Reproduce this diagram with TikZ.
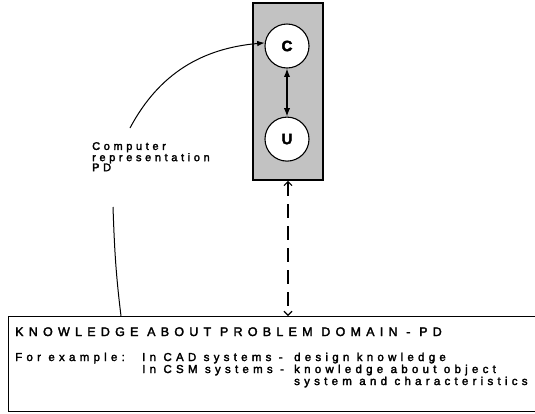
\documentclass[tikz,border=0pt]{standalone}
\usepackage{fontspec}
\setmainfont[LetterSpace=37, FakeBold=2.5]{Liberation Sans}
\usetikzlibrary{arrows.meta,positioning}

\begin{document}
\begin{tikzpicture}[
    x=1pt, y=-1pt,
    repbox/.style={draw, line width=1.6pt, fill=black!24, minimum width=70pt, minimum height=177pt, inner sep=0pt},
    circ/.style={draw, line width=1.1pt, circle, fill=white, minimum size=44pt, inner sep=0pt, font=\fontsize{15}{15}\bfseries\selectfont},
    pdbox/.style={draw, line width=1.3pt, anchor=north west, minimum width=540pt, minimum height=95pt, inner sep=0pt},
    lbl/.style={inner sep=0pt, align=left, font=\fontsize{11}{10}\selectfont\addfontfeature{LetterSpace=33}},
    body/.style={inner sep=0pt, font=\fontsize{11.5}{12}\selectfont},
    line/.style={-Latex, line width=1pt},
    dbl/.style={Latex-Latex, line width=1.2pt},
    dashes/.style={{Straight Barb[length=4pt,width=8pt]}-{Straight Barb[length=4pt,width=8pt]}, line width=1.1pt, dash pattern=on 14pt off 8pt}
]
\useasboundingbox (0,0) rectangle (535,413);

\node[repbox] (rep) at (288,91.5) {};
\node[circ] (C) at (287,46) {C};
\node[circ, below=48pt of C] (U) {U};
\node[lbl, anchor=north west] (comp) at (92,142) {Computer\\representation\\PD};
\node[pdbox] (pd) at (8,316) {};
\node[body, anchor=base west, font=\fontsize{12.5}{12}\selectfont\addfontfeature{LetterSpace=42}] (pdtitle) at (15,336) {KNOWLEDGE ABOUT PROBLEM DOMAIN - PD};
\node[body, anchor=base west] (pdtext) at (15,361) {%
  \begin{tabular}[t]{@{}p{127pt}@{}p{152pt}@{}l@{}}
  For example: & In CAD systems - & design knowledge\\
               & In CSM systems - & knowledge about object\\
               &                  & system and characteristics
  \end{tabular}};

\coordinate (cfoot) at (130,128);
\coordinate (ltop) at (113,207);
\coordinate (lbot) at (121,316);

\draw[line] (cfoot) to[out=62, in=185] (C.172);
\draw[dbl] (C) -- (U);
\draw[line width=1pt] (ltop) to[out=-88, in=97] (lbot);
\draw[dashes] (rep.south) -- (rep.south |- pd.north);
\end{tikzpicture}
\end{document}
